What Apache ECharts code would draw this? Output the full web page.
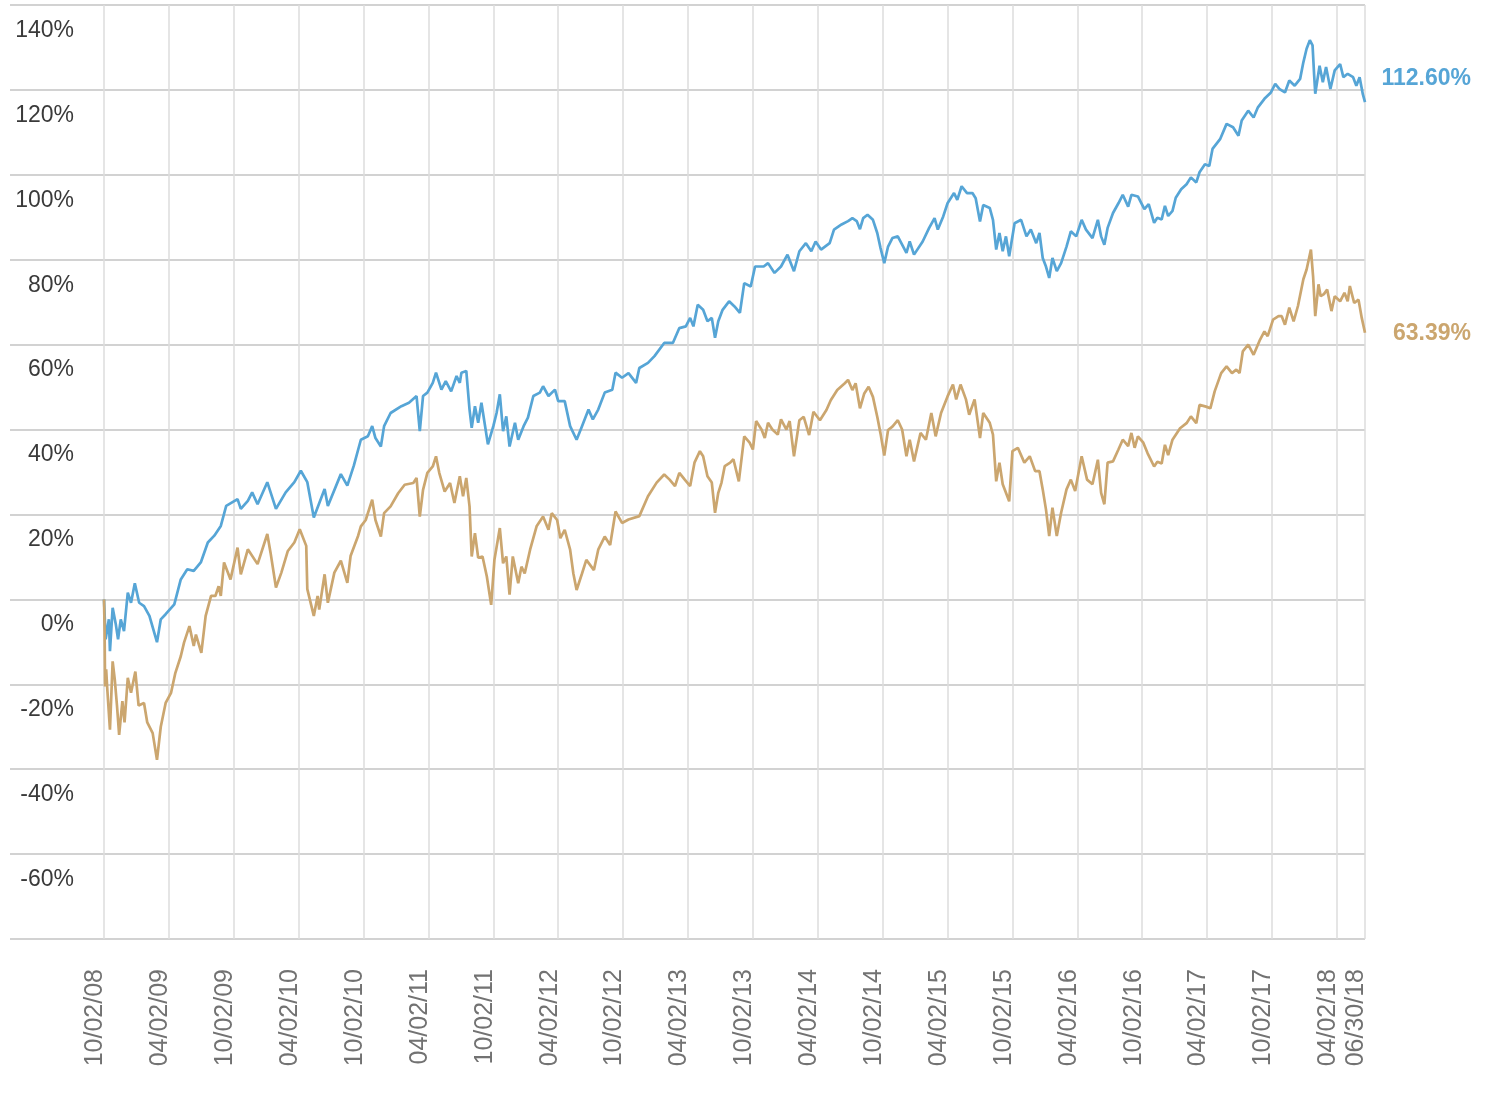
<!DOCTYPE html>
<html>
<head>
<meta charset="utf-8">
<script src="https://cdn.jsdelivr.net/npm/echarts@6/dist/echarts.min.js"></script>
<style>
  html, body { margin: 0; padding: 0; background: #fff; }
  #chart { width: 1487px; height: 1105px; }
</style>
</head>
<body>
<div id="chart"></div>
<script>
// x = months since 10/02/08, y = cumulative return in %
const xTickLabels = ['10/02/08', '04/02/09', '10/02/09', '04/02/10', '10/02/10', '04/02/11', '10/02/11',
  '04/02/12', '10/02/12', '04/02/13', '10/02/13', '04/02/14', '10/02/14', '04/02/15', '10/02/15',
  '04/02/16', '10/02/16', '04/02/17', '10/02/17', '04/02/18', '06/30/18'];
const xMax = 116.6;
const endLabels = ['112.60%', '63.39%'];

const fundPoints = [
  [0,0],[0.15,-9.4],[0.45,-4.7],[0.55,-12.2],[0.8,-2],[1.1,-6],[1.3,-9.4],[1.55,-4.7],[1.85,-7.5],[2.2,1.6],
  [2.5,-0.8],[2.85,3.8],[3.25,-0.8],[3.7,-1.6],[4.2,-3.9],[4.9,-10.1],[5.25,-4.7],[5.7,-3.5],[6.5,-1.2],[7.1,4.7],
  [7.7,7.1],[8.3,6.7],[8.95,8.7],[9.6,13.4],[10.2,15],[10.8,17.3],[11.3,22],[12.35,23.6],[12.65,21.3],[13.3,23.2],
  [13.7,25.2],[14.2,22.4],[15.1,27.6],[15.9,21.3],[16.8,25.2],[17.6,27.6],[18.2,30.3],[18.8,27.6],[19.4,19.3],[20.4,26],
  [20.7,22],[21.9,29.5],[22.5,26.8],[23.1,31.5],[23.75,37.6],[24.4,38.4],[24.8,40.8],[25.1,38],[25.6,36],[25.9,40.8],
  [26.5,43.9],[27.5,45.5],[28.2,46.3],[28.9,47.9],[29.2,39.6],[29.5,47.9],[29.9,48.7],[30.4,51],[30.7,53.4],[31.2,49.4],
  [31.6,51.4],[32.1,49],[32.6,52.6],[32.9,51],[33.05,53.4],[33.5,53.8],[33.8,44.7],[34.0,40.4],[34.3,45.5],[34.6,41.6],
  [34.9,46.3],[35.5,36.5],[36.0,40.8],[36.3,43.9],[36.6,48.3],[36.9,39.6],[37.2,43.1],[37.5,36],[38.0,41.6],[38.3,37.6],
  [38.8,40.8],[39.2,42.8],[39.7,47.9],[40.3,48.7],[40.6,50.2],[41.1,47.9],[41.7,49.4],[42.0,46.7],[42.6,46.7],[43.1,40.8],
  [43.7,37.6],[44.2,40.8],[44.8,44.7],[45.2,42.4],[45.7,44.7],[46.3,48.7],[47,49.4],[47.3,53.4],[47.9,52.2],[48.5,53.3],
  [49.2,51],[49.5,54.5],[50.3,55.7],[50.9,57.3],[51.8,60.4],[52.6,60.4],[53.2,63.9],[53.8,64.3],[54.2,66.3],[54.5,64.3],
  [54.9,69.4],[55.4,68.2],[55.8,65.5],[56.2,66.3],[56.5,61.6],[56.8,65.5],[57.2,68.2],[57.8,70.2],[58.3,69],[58.8,67.5],
  [59.2,74.5],[59.8,73.7],[60.2,78.4],[61,78.4],[61.4,79.2],[62,76.9],[62.6,78.4],[63.2,81.2],[63.8,77.3],[64.3,82],
  [64.9,83.9],[65.4,82],[65.8,84.3],[66.3,82.4],[67.1,83.9],[67.5,87.1],[68.2,88.3],[68.8,89.1],[69.2,89.8],[69.6,89.1],
  [69.9,87.2],[70.2,89.8],[70.6,90.6],[71.1,89.4],[71.5,86.3],[71.8,82.8],[72.15,79.2],[72.5,83.1],[72.9,85.1],[73.4,85.5],
  [74.2,81.6],[74.5,84.3],[74.9,81.2],[75.7,84.3],[76.3,87.5],[76.8,89.8],[77.1,87.1],[77.6,90.2],[78,93.3],[78.6,95.7],
  [78.9,94.1],[79.3,97.3],[79.8,95.7],[80.3,95.7],[80.6,94.5],[81,89],[81.3,92.9],[81.9,92.2],[82.2,89.4],[82.5,82.4],
  [82.8,86.3],[83.1,82],[83.4,85.5],[83.7,80.8],[84.2,88.6],[84.8,89.4],[85.3,85.5],[85.7,87.1],[86.2,83.9],[86.5,86.3],
  [86.8,80.4],[87.1,78.4],[87.4,75.7],[87.7,80.4],[88.1,77.3],[88.5,79.2],[89,83.1],[89.4,86.7],[89.9,85.5],[90.4,89.4],
  [90.8,87.1],[91.4,85.1],[91.9,89.4],[92.2,85.5],[92.5,83.5],[92.8,87.5],[93.3,91],[93.8,93.3],[94.2,95.3],[94.7,92.5],
  [95,95.3],[95.6,94.9],[96.2,91.9],[96.6,93.1],[97.1,88.7],[97.4,89.9],[97.8,89.5],[98.1,92.7],[98.4,90.3],[98.8,91.5],
  [99.1,94.6],[99.6,96.6],[100.1,97.8],[100.5,99.4],[101,98.2],[101.3,100.6],[101.8,102.5],[102.2,102.1],[102.5,106.1],[103.2,108.4],
  [103.8,112],[104.4,111.2],[104.9,109.2],[105.2,112.8],[105.8,115.1],[106.3,113.5],[106.7,115.9],[107.3,117.9],[107.9,119.4],[108.3,121.4],
  [108.7,120.2],[109.2,119.4],[109.6,122.2],[110.1,121],[110.6,122.6],[110.9,126.5],[111.2,129.7],[111.5,131.7],[111.75,130.5],[111.9,123.4],
  [112,119.1],[112.4,125.7],[112.7,121.8],[113,125.4],[113.4,120.2],[113.8,124.6],[114.3,126.1],[114.6,123],[115,123.8],[115.5,123],
  [115.8,121],[116.1,123],[116.4,119],[116.6,117.1]
];

const benchmarkPoints = [
  [0,0],[0.05,-6.3],[0.1,-20.5],[0.2,-16.5],[0.3,-21],[0.55,-30.7],[0.8,-14.6],[1.0,-19],[1.2,-25],[1.4,-31.9],
  [1.7,-24],[1.9,-29],[2.2,-18.5],[2.5,-22],[2.9,-17],[3.2,-25],[3.7,-24.4],[4.0,-29],[4.5,-31.5],[4.9,-37.8],
  [5.25,-30],[5.7,-24.4],[6.2,-22],[6.6,-17.3],[7.1,-13.4],[7.4,-10.2],[7.9,-6.3],[8.3,-11],[8.5,-8.3],[9.0,-12.6],
  [9.4,-3.9],[9.9,0.8],[10.3,0.8],[10.6,3.1],[10.8,0.8],[11.1,8.7],[11.7,4.7],[12.35,12.2],[12.65,5.9],[13.3,11.8],
  [14.2,8.3],[15.1,15.4],[15.4,11],[15.9,2.8],[16.4,6.3],[17,11.4],[17.6,13.4],[18.1,16.5],[18.7,12.6],[18.8,2.4],
  [19.4,-3.9],[19.75,0.8],[19.9,-2.4],[20.4,5.9],[20.7,-0.8],[21.3,6.3],[21.9,9.1],[22.5,3.9],[22.8,10.2],[23.5,15],
  [23.75,17.2],[24.2,18.7],[24.8,23.5],[25.1,18.7],[25.6,14.8],[25.9,20.3],[26.5,21.9],[27.2,25],[27.8,27],[28.6,27.4],
  [28.9,28.6],[29.2,19.5],[29.5,25.8],[29.9,29.8],[30.4,31.3],[30.7,33.7],[31.0,29.8],[31.5,25.4],[32.0,27.4],[32.4,22.7],
  [32.9,29],[33.2,24.3],[33.5,28.6],[33.8,21.9],[34.0,10.1],[34.3,15.6],[34.6,9.8],[35.0,10.1],[35.4,5.4],[35.8,-1.3],
  [36.1,9.3],[36.6,16.8],[36.9,8.5],[37.2,10.1],[37.5,1.1],[37.8,10.1],[38.3,3.8],[38.6,7.7],[38.9,6.1],[39.4,11.7],
  [40,17.2],[40.6,19.5],[41.1,16.4],[41.4,20.3],[41.9,18.7],[42.2,14.4],[42.6,16.4],[43.1,11.7],[43.4,6.1],[43.7,2.2],
  [44.2,6.1],[44.6,9.3],[45.3,6.9],[45.7,11.7],[46.3,14.8],[46.8,12.8],[47.3,20.7],[47.9,18],[48.5,18.8],[49.5,19.6],
  [50.3,24.3],[51.1,27.5],[51.8,29.4],[52.3,28.2],[52.8,26.7],[53.2,29.8],[53.7,28.2],[54.2,26.7],[54.6,32.2],[55.1,34.9],
  [55.4,33.7],[55.8,29],[56.2,27.5],[56.5,20.4],[56.8,25.1],[57.1,27.5],[57.4,31.4],[57.9,32.2],[58.2,33],[58.7,27.8],
  [59.2,38.4],[59.7,36.9],[60,35.3],[60.3,42],[60.8,40],[61.1,38],[61.4,41.6],[61.8,40],[62.3,38.8],[62.6,42.4],
  [63.1,40],[63.4,42],[63.8,33.7],[64.3,42.2],[64.7,43],[65.2,38.7],[65.6,44.2],[66.2,42.2],[66.8,44.6],[67.2,46.9],
  [67.8,49.3],[68.5,50.9],[68.8,51.7],[69.2,49.3],[69.5,50.9],[69.9,45],[70.3,48.5],[70.7,50.1],[71.1,47.7],[71.5,43],
  [71.8,39.1],[72.15,33.9],[72.5,39.9],[72.9,40.7],[73.4,42.2],[73.8,40],[74.2,33.7],[74.5,37.6],[74.9,32.5],[75.5,39.2],
  [76,37.6],[76.5,43.9],[76.9,38.4],[77.4,43.9],[78,47.8],[78.5,50.6],[78.8,47.1],[79.2,50.6],[79.7,47.1],[80,43.5],
  [80.5,47.1],[81,38],[81.3,43.9],[81.9,41.6],[82.2,38.8],[82.5,27.8],[82.8,32.2],[83.1,27.1],[83.7,23.1],[84,34.9],
  [84.5,35.7],[85.1,32.2],[85.6,33.7],[86.1,30.2],[86.5,30.2],[86.8,25.9],[87.1,21.2],[87.4,14.9],[87.7,21.6],[88.1,14.9],
  [88.5,20.4],[89,25.9],[89.4,28.2],[89.8,25.5],[90.4,33.7],[90.9,28.2],[91.4,27.1],[91.9,32.9],[92.2,25.1],[92.5,22.4],
  [92.8,32.2],[93.3,32.5],[93.8,35.3],[94.2,37.6],[94.7,36.1],[95,39.2],[95.3,35.7],[95.6,38.4],[96.1,36.9],[96.5,34.4],
  [97.1,31.3],[97.4,32.4],[97.8,32],[98.1,36.4],[98.4,34],[98.8,37.6],[99.5,40.3],[100.1,41.5],[100.5,43.1],[101,41.5],
  [101.3,45.8],[101.9,45.4],[102.3,45],[102.7,49],[103.3,53.3],[103.8,54.9],[104.3,53.3],[104.7,54.1],[105,53.3],[105.3,58.4],
  [105.8,60],[106.3,57.6],[106.9,61.2],[107.3,63.1],[107.6,62],[108.1,65.9],[108.6,66.7],[108.9,66.7],[109.2,64.7],[109.6,68.7],
  [110,65.5],[110.4,69.1],[110.9,75.4],[111.2,77.7],[111.6,82.4],[111.8,76.1],[112,66.7],[112.3,74.2],[112.5,71.4],[112.8,71.9],
  [113.1,73],[113.5,67.9],[113.8,71.4],[114.3,70.2],[114.7,72.2],[115,70.2],[115.2,73.8],[115.6,69.8],[116,70.6],[116.3,66.3],
  [116.6,62.8]
];

const BLUE = '#56a5d6';
const TAN = '#cba66f';

const chart = echarts.init(document.getElementById('chart'));

const yCommon = { type: 'value', min: -80, max: 140, interval: 20 };

const option = {
  animation: false,
  textStyle: { fontFamily: '"Liberation Sans", Arial, sans-serif' },
  grid: [
    { left: 10, right: 122, top: 5, bottom: 166 },   // horizontal lines + y labels
    { left: 104, right: 122, top: 5, bottom: 166 }   // data area
  ],
  xAxis: [
    { gridIndex: 0, type: 'value', min: 0, max: 1, show: false },
    {
      gridIndex: 1,
      type: 'value',
      min: 0,
      max: xMax,
      interval: 6,
      axisLine: { show: false },
      axisTick: { show: false },
      splitLine: { show: true, lineStyle: { color: '#dcdcdc', width: 1.5 } },
      axisLabel: {
        rotate: 90,
        margin: 30,
        verticalAlign: 'bottom',
        lineHeight: 17,
        fontSize: 25,
        color: '#727272',
        showMinLabel: true,
        showMaxLabel: true,
        formatter: v => (v >= xMax - 0.01 ? xTickLabels[xTickLabels.length - 1] : xTickLabels[Math.round(v / 6)])
      }
    }
  ],
  yAxis: [
    {
      ...yCommon,
      gridIndex: 0,
      axisLine: { show: false },
      axisTick: { show: false },
      splitLine: { show: true, lineStyle: { color: '#d2d2d2', width: 2 } },
      axisLabel: {
        inside: true,
        align: 'right',
        margin: 64,
        verticalAlign: 'top',
        padding: [14, 0, 0, 0],
        fontSize: 23,
        color: '#3a3a3a',
        formatter: v => (v === -80 ? '' : v + '%')
      }
    },
    { ...yCommon, gridIndex: 1, show: false, splitLine: { show: false } }
  ],
  series: [
    {
      name: 'Fund',
      type: 'line',
      xAxisIndex: 1,
      yAxisIndex: 1,
      data: fundPoints,
      showSymbol: false,
      lineStyle: { color: BLUE, width: 2.7 },
      itemStyle: { color: BLUE },
      endLabel: {
        show: true,
        formatter: endLabels[0],
        align: 'right',
        distance: 106,
        offset: [0, -24],
        color: BLUE,
        fontSize: 23,
        fontWeight: 'bold'
      }
    },
    {
      name: 'Benchmark',
      type: 'line',
      xAxisIndex: 1,
      yAxisIndex: 1,
      data: benchmarkPoints,
      showSymbol: false,
      lineStyle: { color: TAN, width: 2.7 },
      itemStyle: { color: TAN },
      endLabel: {
        show: true,
        formatter: endLabels[1],
        align: 'right',
        distance: 106,
        offset: [0, 1],
        color: TAN,
        fontSize: 23,
        fontWeight: 'bold'
      }
    }
  ]
};

chart.setOption(option);
</script>
</body>
</html>
